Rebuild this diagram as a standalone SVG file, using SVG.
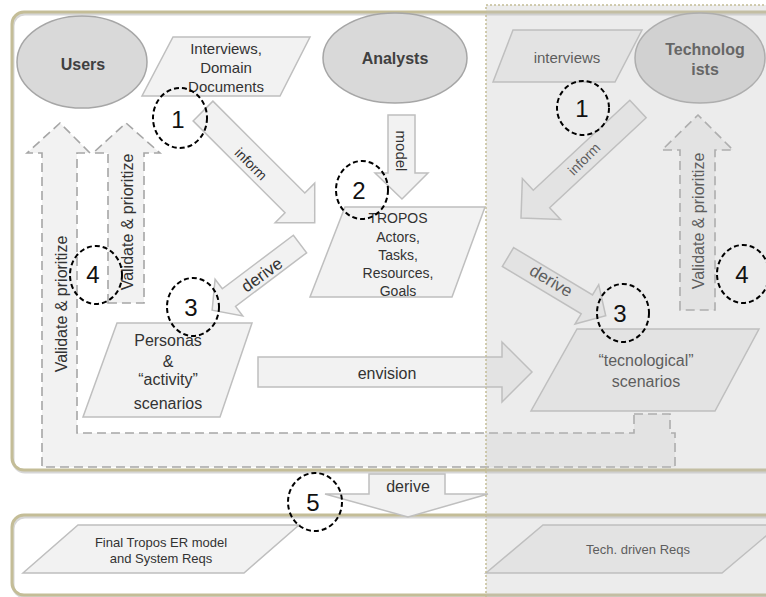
<svg xmlns="http://www.w3.org/2000/svg" width="766" height="597" viewBox="0 0 766 597">
<style>
text{font-family:"Liberation Sans",Arial,sans-serif;fill:#333}
.para{fill:#f2f2f2;stroke:#bfbfbf;stroke-width:1.5}
.blk{fill:#f2f2f2;stroke:#bfbfbf;stroke-width:1.5}
.dash{fill:#f2f2f2;stroke:#a6a6a6;stroke-width:1.6;stroke-dasharray:9 5}
.ell{fill:#d9d9d9;stroke:#a6a6a6;stroke-width:1.5}
.actor{font-weight:bold;font-size:16px;fill:#404040;text-anchor:middle}
.t15{font-size:15px;text-anchor:middle}
.t14{font-size:14px;text-anchor:middle}
.t16{font-size:16px;text-anchor:middle}
.lbl{text-anchor:middle;dominant-baseline:central}
.num{fill:none;stroke:#000;stroke-width:2;stroke-dasharray:5 3}
.digit{font-size:24px;fill:#111;text-anchor:middle}
.frame{fill:none;stroke:#c4bd97;stroke-width:3}
.shadow{fill:none;stroke:#d6d6d6;stroke-width:3}
</style>
<rect width="766" height="597" fill="#fff"/>
<g id="frames">
<rect class="shadow" x="13" y="14" width="800" height="458" rx="12"/>
<rect class="frame" x="12" y="12" width="800" height="458" rx="12"/>
<rect class="shadow" x="13" y="517" width="800" height="80" rx="12"/>
<rect class="frame" x="12" y="515" width="800" height="80" rx="12"/>
</g>
<g id="connectors">
<path class="dash" d="M634,414 H670 V433 H675 V467 H42 V153 H27 L60,123 L90,153 H77 V433 H634 Z"/>
<path class="dash" d="M108,303 V153 H93 L126,123 L160,153 H144 V303 Z"/>
<path class="dash" d="M680,310 V150 H662 L698,115 L733,150 H715 V310 Z"/>
<path class="blk" transform="translate(203,111) rotate(45)" d="M0,-14 H130 V-28 L158,0 L130,28 V14 H0 Z"/>
<path class="blk" transform="translate(638,109) rotate(137)" d="M0,-12 H132 V-28 L160,0 L132,28 V12 H0 Z"/>
<path class="blk" transform="translate(300,244) rotate(143)" d="M0,-11 H89 V-23 L110,0 L89,23 V11 H0 Z"/>
<path class="blk" transform="translate(508,257) rotate(31)" d="M0,-11 H92 V-23 L114,0 L92,23 V11 H0 Z"/>
<path class="blk" d="M388,115 H415 V173 H428 L402,199 L375,173 H388 Z"/>
<path class="blk" d="M258,357 H502 V342 L532,372 L502,402 V387 H258 Z"/>
<path class="blk" d="M369,474 H445 V494 H488 L408,517 L325,494 H369 Z"/>
<text class="lbl" font-size="14" transform="translate(251,164) rotate(45)">inform</text>
<text class="lbl" font-size="14" transform="translate(584,159) rotate(-45)">inform</text>
<text class="lbl" font-size="17" transform="translate(262,275) rotate(-36)">derive</text>
<text class="lbl" font-size="17" transform="translate(551,281) rotate(31)">derive</text>
<text class="lbl" font-size="15" transform="translate(401,151) rotate(90)">model</text>
<text class="t16" x="387" y="379">envision</text>
<text class="t16" x="408" y="492">derive</text>
<text class="lbl" font-size="16" transform="translate(61,304) rotate(-90)">Validate &amp; prioritize</text>
<text class="lbl" font-size="16" transform="translate(127,222) rotate(-90)">Validate &amp; prioritize</text>
<text class="lbl" font-size="16" transform="translate(698,221) rotate(-90)">Validate &amp; prioritize</text>
</g>
<g id="users"><ellipse class="ell" cx="82" cy="62" rx="65" ry="46"/><text class="actor" x="83" y="70">Users</text></g>
<g id="analysts"><ellipse class="ell" cx="395" cy="58" rx="72" ry="45"/><text class="actor" x="395" y="64">Analysts</text></g>
<g id="technologists"><ellipse class="ell" cx="700" cy="58" rx="65" ry="45"/><text class="actor" x="705" y="55">Technolog</text><text class="actor" x="705" y="75">ists</text></g>
<g id="interviews-domain"><polygon class="para" points="173,37 310,37 280,96 142,96"/>
<text class="t15" x="226" y="54">Interviews,</text><text class="t15" x="226" y="73">Domain</text><text class="t15" x="226" y="92">Documents</text></g>
<g id="tropos"><polygon class="para" points="345,207 485,207 452,297 310,297"/>
<text class="t14" x="398" y="223">TROPOS</text><text class="t14" x="398" y="241.5">Actors,</text><text class="t14" x="398" y="260">Tasks,</text><text class="t14" x="398" y="278">Resources,</text><text class="t14" x="398" y="296">Goals</text></g>
<g id="personas"><polygon class="para" points="117,323 252,323 220,417 83,417"/>
<text class="t16" x="168" y="346">Personas</text><text class="t16" x="168" y="367">&amp;</text><text class="t16" x="168" y="385">“activity”</text><text class="t16" x="168" y="409">scenarios</text></g>
<g id="interviews-tech"><polygon class="para" points="513,30 642,30 615,82 493,82"/><text class="t15" x="567" y="63">interviews</text></g>
<g id="tech-scenarios"><polygon class="para" points="577,329 759,329 715,411 531,411"/>
<text class="t16" x="646" y="366">“tecnological”</text><text class="t16" x="646" y="387">scenarios</text></g>
<g id="final-tropos"><polygon class="para" points="78,525 299,525 244,573 23,573"/>
<text font-size="13" text-anchor="middle" x="161" y="547">Final Tropos ER model</text><text font-size="13" text-anchor="middle" x="161" y="563">and System Reqs</text></g>
<g id="tech-reqs"><polygon class="para" points="543,525 779,525 722,573 486,573"/>
<text font-size="13" text-anchor="middle" x="638" y="554">Tech. driven Reqs</text></g>
<g id="tech-region">
<rect x="486" y="5" width="282" height="594" fill="#bfbfbf" fill-opacity="0.3"/>
<path d="M486,597 V5 H766" fill="none" stroke="#c4bd97" stroke-width="1.5" stroke-dasharray="2 2"/>
</g>
<g id="steps">
<g id="s1a"><ellipse class="num" cx="180" cy="118" rx="27" ry="30"/><text class="digit" x="178" y="128">1</text></g>
<g id="s2"><ellipse class="num" cx="362" cy="190" rx="26" ry="29"/><text class="digit" x="359" y="199">2</text></g>
<g id="s3a"><ellipse class="num" cx="193" cy="307" rx="26" ry="29"/><text class="digit" x="191" y="316">3</text></g>
<g id="s4a"><ellipse class="num" cx="96" cy="275" rx="26" ry="29"/><text class="digit" x="93" y="283">4</text></g>
<g id="s1b"><ellipse class="num" cx="583" cy="108" rx="26" ry="27"/><text class="digit" x="582" y="117">1</text></g>
<g id="s3b"><ellipse class="num" cx="623" cy="313" rx="26" ry="29"/><text class="digit" x="620" y="322">3</text></g>
<g id="s4b"><ellipse class="num" cx="743" cy="274" rx="26" ry="29"/><text class="digit" x="742" y="283">4</text></g>
<g id="s5"><ellipse class="num" cx="315" cy="502" rx="27" ry="29"/><text class="digit" x="313" y="511" font-size="26">5</text></g>
</g>
</svg>
